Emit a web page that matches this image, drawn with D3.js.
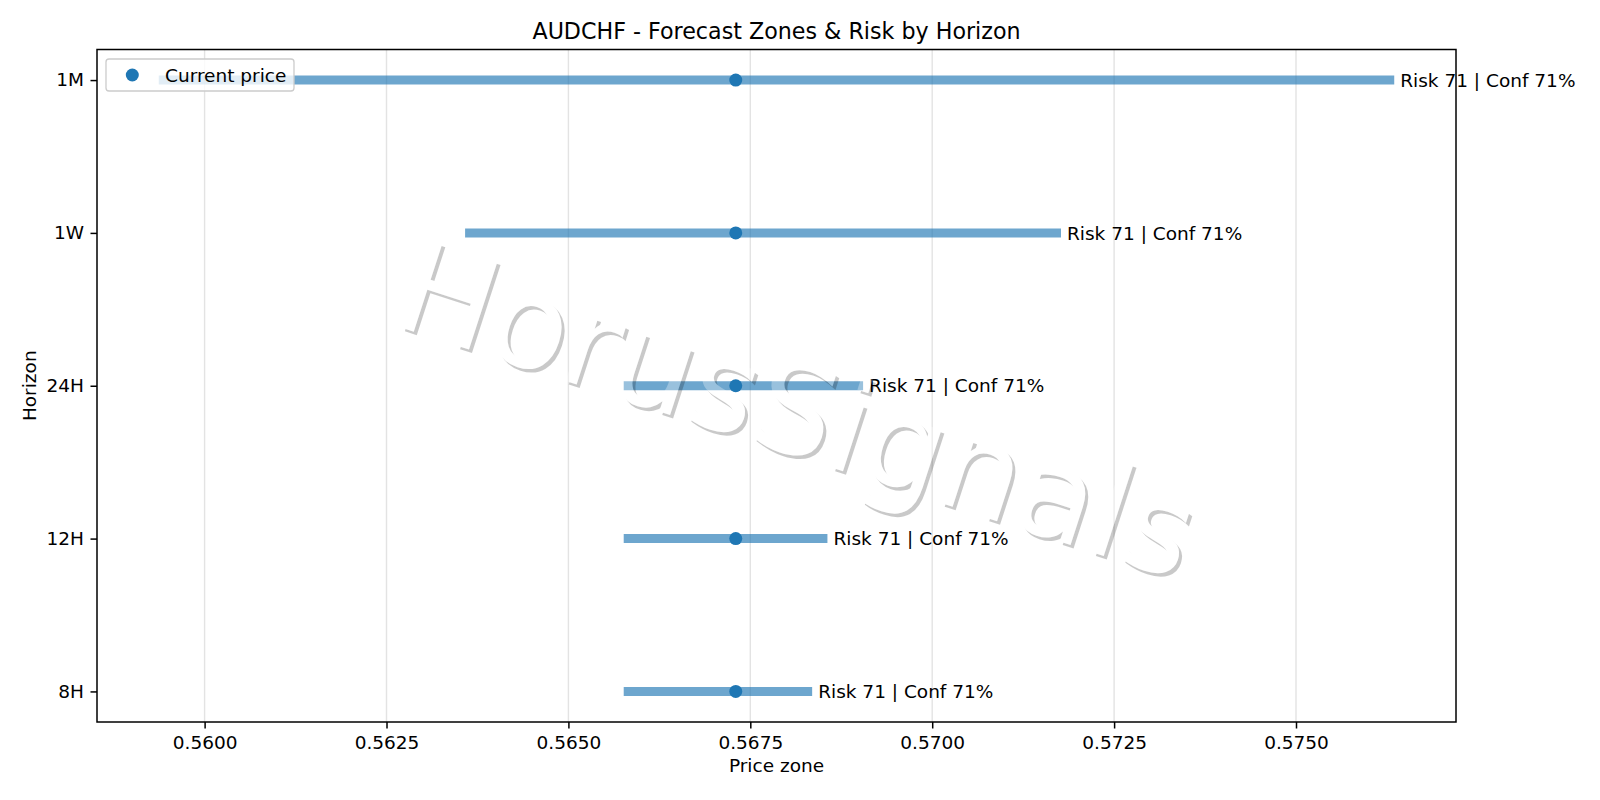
<!DOCTYPE html>
<html>
  <head>
    <title>d3</title>
    <meta charset="utf-8">
    <script src="https://d3js.org/d3.v7.min.js"></script>
    <style type="text/css">
      body { margin: 0; background: #fff; }
      #chart text {
        font-family: "DejaVu Sans", sans-serif;
        fill: #000;
      }
      .tick text { font-size: 18.5px; }
      .tick line { stroke: #000; stroke-width: 1.5px; }
    </style>
  </head>
  <body>
    <svg id="chart"></svg>
    <script>
      // horizons from bottom to top
      var horizons = ["8H", "12H", "24H", "1W", "1M"];
      var zoneLow  = [0.56576, 0.56576, 0.56576, 0.56358, 0.55937];
      var zoneHigh = [0.56835, 0.56856, 0.56905, 0.57177, 0.57635];
      var currentPrice = 0.5673;
      var risk = [71, 71, 71, 71, 71];
      var conf = [71, 71, 71, 71, 71];
      var xTicks = [0.5600, 0.5625, 0.5650, 0.5675, 0.5700, 0.5725, 0.5750];

      var width = 1600, height = 800;
      // plot box (window.top is reserved, so use other names)
      var plotL = 97, plotR = 1456, plotT = 49.5, plotB = 722;
      var blue = "#1f77b4";

      var svg = d3.select("#chart")
          .attr("width", width)
          .attr("height", height);

      // x range like matplotlib autoscale (5% margins)
      var lo = d3.min(zoneLow.concat([currentPrice])),
          hi = d3.max(zoneHigh.concat([currentPrice])),
          pad = (hi - lo) * 0.05;

      var x = d3.scaleLinear()
          .domain([lo - pad, hi + pad])
          .range([plotL, plotR]);

      var y = d3.scalePoint()
          .domain(horizons)
          .range([plotB, plotT])
          .padding(0.2);

      // grid
      svg.append("g").selectAll("line")
          .data(xTicks)
          .enter().append("line")
            .attr("x1", x).attr("x2", x)
            .attr("y1", plotT).attr("y2", plotB)
            .attr("stroke", "#b0b0b0")
            .attr("stroke-opacity", 0.35)
            .attr("stroke-width", 1.4);

      var rows = horizons.map(function(h, i) {
        return { h: h, lo: zoneLow[i], hi: zoneHigh[i], risk: risk[i], conf: conf[i] };
      });

      // zone bars
      svg.append("g").selectAll("line")
          .data(rows)
          .enter().append("line")
            .attr("x1", function(d) { return x(d.lo); })
            .attr("x2", function(d) { return x(d.hi); })
            .attr("y1", function(d) { return y(d.h); })
            .attr("y2", function(d) { return y(d.h); })
            .attr("stroke", blue)
            .attr("stroke-opacity", 0.65)
            .attr("stroke-width", 9);

      // current price dots
      svg.append("g").selectAll("circle")
          .data(rows)
          .enter().append("circle")
            .attr("cx", x(currentPrice))
            .attr("cy", function(d) { return y(d.h); })
            .attr("r", 6.5)
            .attr("fill", blue);

      // labels
      svg.append("g").selectAll("text")
          .data(rows)
          .enter().append("text")
            .attr("x", function(d) { return x(d.hi) + 6; })
            .attr("y", function(d) { return y(d.h); })
            .attr("dy", "0.36em")
            .style("font-size", "18.5px")
            .text(function(d) { return "Risk " + d.risk + " | Conf " + d.conf + "%"; });

      // watermark: white text + gray shadow only outside the glyphs
      var wmX = 784, wmY = 452, wmRot = 18, wmSize = "127px";
      var defs = svg.append("defs");
      var mask = defs.append("mask").attr("id", "wmcut")
          .attr("maskUnits", "userSpaceOnUse")
          .attr("x", 0).attr("y", 0).attr("width", width).attr("height", height);
      mask.append("rect").attr("width", width).attr("height", height).attr("fill", "#fff");
      mask.append("text")
          .attr("transform", "translate(" + wmX + "," + wmY + ") rotate(" + wmRot + ")")
          .attr("text-anchor", "middle")
          .style("font-size", wmSize)
          .style("fill", "#000")
          .text("HorusSignals");

      svg.append("g")
          .attr("mask", "url(#wmcut)")
        .append("text")
          .attr("transform", "translate(" + (wmX + 3) + "," + (wmY + 3.5) + ") rotate(" + wmRot + ")")
          .attr("text-anchor", "middle")
          .style("font-size", wmSize)
          .style("fill", "#000")
          .style("fill-opacity", 0.21)
          .text("HorusSignals");

      svg.append("text")
          .attr("transform", "translate(" + wmX + "," + wmY + ") rotate(" + wmRot + ")")
          .attr("text-anchor", "middle")
          .style("font-size", wmSize)
          .style("fill", "#fff")
          .style("fill-opacity", 0.3)
          .text("HorusSignals");

      // axes
      var xAxis = svg.append("g")
          .attr("transform", "translate(0," + plotB + ")")
          .call(d3.axisBottom(x).tickValues(xTicks).tickFormat(d3.format(".4f"))
            .tickSize(6.5).tickPadding(6.9));
      xAxis.select(".domain").remove();

      var yAxis = svg.append("g")
          .attr("transform", "translate(" + plotL + ",0)")
          .call(d3.axisLeft(y).tickSize(6.5).tickPadding(6.5));
      yAxis.select(".domain").remove();

      svg.append("rect")
          .attr("x", plotL).attr("y", plotT)
          .attr("width", plotR - plotL).attr("height", plotB - plotT)
          .attr("fill", "none")
          .attr("stroke", "#000")
          .attr("stroke-width", 1.5);

      svg.append("text")
          .attr("x", (plotL + plotR) / 2).attr("y", 39)
          .attr("text-anchor", "middle")
          .style("font-size", "22.2px")
          .text("AUDCHF - Forecast Zones & Risk by Horizon");

      svg.append("text")
          .attr("x", (plotL + plotR) / 2).attr("y", 772)
          .attr("text-anchor", "middle")
          .style("font-size", "18.5px")
          .text("Price zone");

      svg.append("text")
          .attr("transform", "translate(36," + (plotT + plotB) / 2 + ") rotate(-90)")
          .attr("text-anchor", "middle")
          .style("font-size", "18.5px")
          .text("Horizon");

      // legend
      var legend = svg.append("g");
      legend.append("rect")
          .attr("x", 106).attr("y", 59)
          .attr("width", 188).attr("height", 32)
          .attr("rx", 3)
          .attr("fill", "#fff").attr("fill-opacity", 0.8)
          .attr("stroke", "#cccccc").attr("stroke-width", 1.3);
      legend.append("circle")
          .attr("cx", 132.3).attr("cy", 75)
          .attr("r", 6.5)
          .attr("fill", blue);
      legend.append("text")
          .attr("x", 165).attr("y", 75)
          .attr("dy", "0.36em")
          .style("font-size", "18.5px")
          .text("Current price");
    </script>
  </body>
</html>
